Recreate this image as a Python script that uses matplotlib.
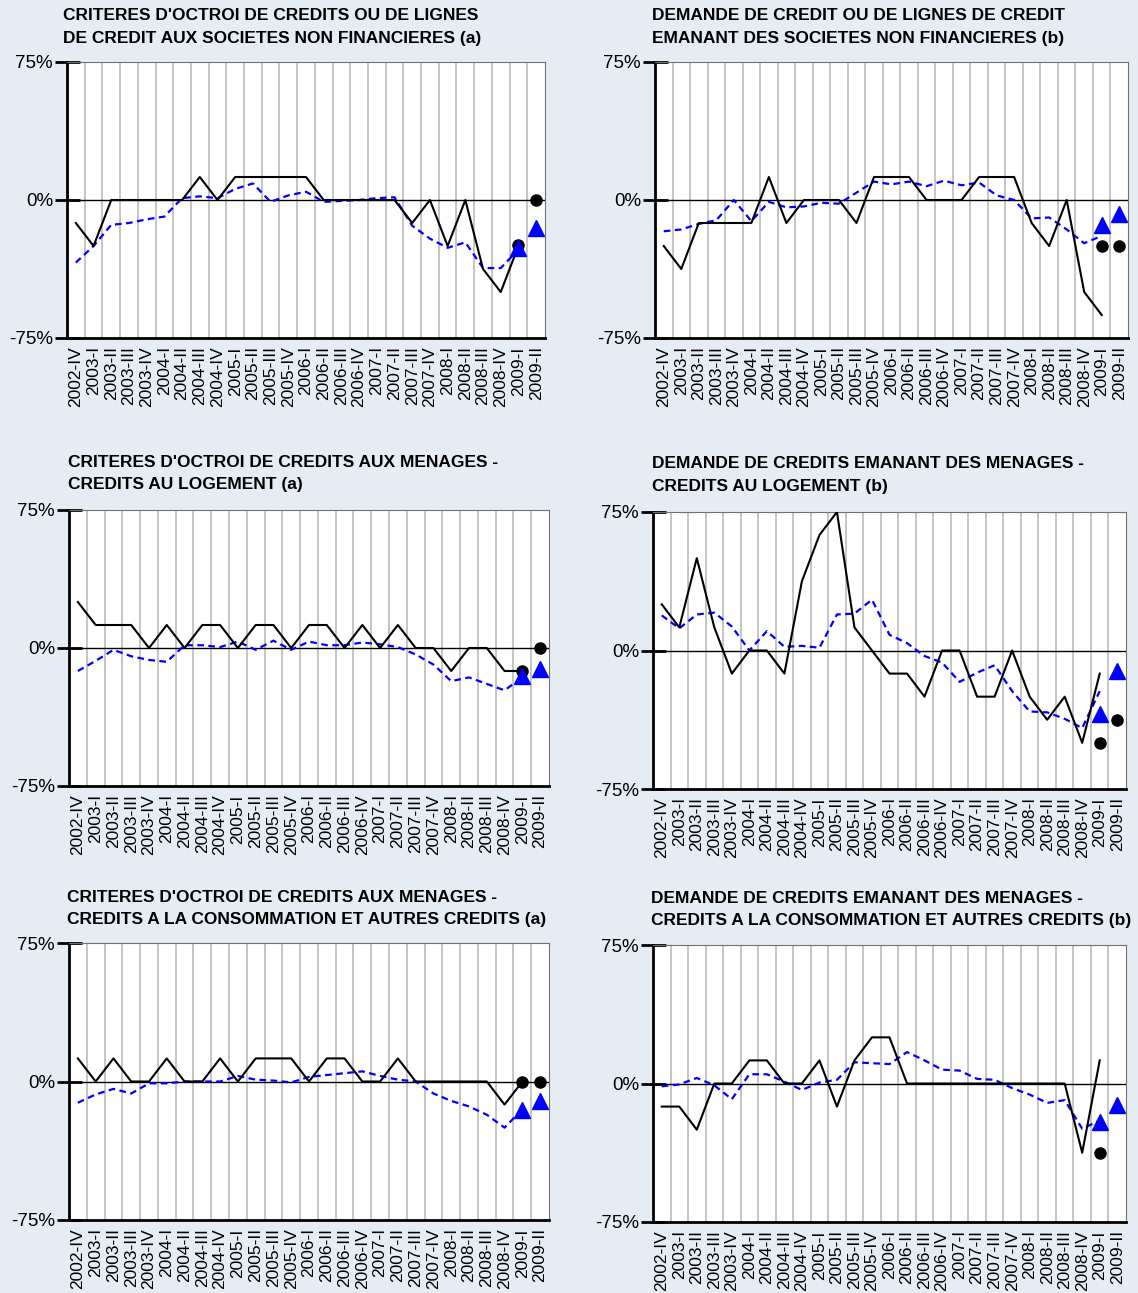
import matplotlib
matplotlib.use('Agg')
import matplotlib.pyplot as plt

plt.rcParams['font.family'] = ['Liberation Sans', 'DejaVu Sans']

# trimestres
quarters = ['2002-IV', '2003-I', '2003-II', '2003-III', '2003-IV', '2004-I', '2004-II',
            '2004-III', '2004-IV', '2005-I', '2005-II', '2005-III', '2005-IV', '2006-I',
            '2006-II', '2006-III', '2006-IV', '2007-I', '2007-II', '2007-III', '2007-IV',
            '2008-I', '2008-II', '2008-III', '2008-IV', '2009-I', '2009-II']

titles = [
    ["CRITERES D'OCTROI DE CREDITS OU DE LIGNES", "DE CREDIT AUX SOCIETES NON FINANCIERES (a)"],
    ["DEMANDE DE CREDIT OU DE LIGNES DE CREDIT", "EMANANT DES SOCIETES NON FINANCIERES (b)"],
    ["CRITERES D'OCTROI DE CREDITS AUX MENAGES -", "CREDITS AU LOGEMENT (a)"],
    ["DEMANDE DE CREDITS EMANANT DES MENAGES -", "CREDITS AU LOGEMENT (b)"],
    ["CRITERES D'OCTROI DE CREDITS AUX MENAGES -", "CREDITS A LA CONSOMMATION ET AUTRES CREDITS (a)"],
    ["DEMANDE DE CREDITS EMANANT DES MENAGES -", "CREDITS A LA CONSOMMATION ET AUTRES CREDITS (b)"],
]

# France (ligne noire), 2002-IV .. 2009-I
france_1 = [-12.5, -25, 0, 0, 0, 0, 0, 12.5, 0, 12.5, 12.5, 12.5, 12.5, 12.5, 0, 0, 0, 0, 0,
            -12.5, 0, -25, 0, -37.5, -50, -25]
france_2 = [-25, -37.5, -12.5, -12.5, -12.5, -12.5, 12.5, -12.5, 0, 0, 0, -12.5, 12.5, 12.5,
            12.5, 0, 0, 0, 12.5, 12.5, 12.5, -12.5, -25, 0, -50, -62.5]
france_3 = [25, 12.5, 12.5, 12.5, 0, 12.5, 0, 12.5, 12.5, 0, 12.5, 12.5, 0, 12.5, 12.5, 0,
            12.5, 0, 12.5, 0, 0, -12.5, 0, 0, -12.5, -12.5]
france_4 = [25, 12.5, 50, 12.5, -12.5, 0, 0, -12.5, 37.5, 62.5, 75, 12.5, 0, -12.5, -12.5,
            -25, 0, 0, -25, -25, 0, -25, -37.5, -25, -50, -12.5]
france_5 = [12.5, 0, 12.5, 0, 0, 12.5, 0, 0, 12.5, 0, 12.5, 12.5, 12.5, 0, 12.5, 12.5, 0, 0,
            12.5, 0, 0, 0, 0, 0, -12.5, 0]
france_6 = [-12.5, -12.5, -25, 0, 0, 12.5, 12.5, 0, 0, 12.5, -12.5, 12.5, 25, 25, 0, 0, 0, 0,
            0, 0, 0, 0, 0, 0, -37.5, 12.5]

# zone euro (pointilles bleus), 2002-IV .. 2009-I
euro_1 = [-34, -25, -13.5, -12.5, -10.5, -9, 1, 2, 1, 6, 9, -1, 2.5, 4.5, -1, -0.5, 0, 1, 1.5,
          -14, -21, -26, -23, -37, -37, -27]
euro_2 = [-17, -16, -13, -11, 0, -11.5, -1, -4, -3.5, -1.5, -2, 4, 10, 8.5, 10, 7.5, 10.5, 8,
          9.5, 2.5, 0, -10, -9.5, -16, -23.5, -19.5]
euro_3 = [-12.5, -7, -1, -4.5, -6.5, -7.5, 1.5, 1.5, 0.5, 3.5, -1, 4, -1, 3.5, 1.5, 1.5, 3,
          2, 0.5, -3.5, -9, -18, -16, -19.5, -23, -16]
euro_4 = [19, 12, 19.5, 20.5, 13, 0, 10.5, 2, 2.5, 1.5, 19.5, 20, 27.5, 8.5, 4, -3, -6.5,
          -17, -12, -8, -22, -33, -33.5, -37, -42, -22]
euro_5 = [-11.5, -7, -4, -6.5, -1, -1, 0, 0, 0, 3, 1, 0.5, -0.5, 2.5, 3.5, 4.5, 5.5, 3, 1, 0,
          -6.5, -10.5, -13.5, -18, -25, -15]
euro_6 = [-1.5, -0.5, 3, -1, -8.5, 5, 5, 1, -3.5, 0.5, 2, 11.5, 11, 10.5, 17, 12.5, 7.5, 7,
          2.5, 2, -2.5, -6, -10.5, -9, -24.5, -20]

# anticipations 2009-I et 2009-II
france_prev = [[-24.5, 0], [-25, -25], [-12.5, 0], [-50, -37.5], [0, 0], [-37.5, None]]
euro_prev = [[-26, -15], [-13.5, -7.5], [-15, -11.5], [-34.5, -11], [-15.5, -10.5], [-21, -11.5]]

france = [france_1, france_2, france_3, france_4, france_5, france_6]
euro = [euro_1, euro_2, euro_3, euro_4, euro_5, euro_6]

W, H = 1138, 1293
# boites des graphiques en pixels: gauche, droite, haut, bas
boxes = [(67, 545, 62, 338), (655, 1128, 62, 338),
         (69, 549, 510, 786), (653, 1126, 512, 789),
         (69, 549, 943, 1220), (653, 1126, 945, 1222)]
# position des titres: x, centre ligne 1, centre ligne 2
title_pos = [(63, 14, 37), (652, 14, 37), (68, 461, 483),
             (652, 462, 485), (67, 896, 918), (651, 897, 919)]

bg = '#E6ECF3'
fig = plt.figure(figsize=(W / 100, H / 100), dpi=100, facecolor=bg)

n = len(quarters)
x = list(range(n))

for k in range(6):
    l, r, t, b = boxes[k]
    ax = fig.add_axes([l / W, 1 - b / H, (r - l) / W, (b - t) / H])
    ax.set_facecolor('white')

    # lignes verticales entre trimestres
    for i in range(n - 1):
        ax.axvline(i + 0.5, color='#C0C0C0', lw=1.3, zorder=1)
    ax.axhline(0, color='black', lw=1, zorder=2)

    ax.plot(x[:len(euro[k])], euro[k], color='blue', lw=1.6, linestyle=(0, (3, 2)), zorder=3)
    ax.plot(x[:len(france[k])], france[k], color='black', lw=1.5, zorder=4)

    fx = [x[25 + j] for j in range(2) if france_prev[k][j] is not None]
    fy = [v for v in france_prev[k] if v is not None]
    ax.plot(fx, fy, 'o', color='black', ms=8, linestyle='None', zorder=5)
    ax.plot(x[25:27], euro_prev[k], '^', color='blue', ms=11, linestyle='None', zorder=6)

    ax.set_xlim(-0.5, n - 0.5)
    ax.set_ylim(-75, 75)
    ax.set_yticks([-75, 0, 75])
    ax.set_yticklabels(['-75%', '0%', '75%'], fontsize=13.5)
    ax.set_xticks(x)
    ax.set_xticklabels(quarters, rotation=90, fontsize=12.5)
    ax.tick_params(axis='x', length=0, pad=6)
    ax.tick_params(axis='y', direction='inout', length=18, width=2, pad=1)

    ax.spines['left'].set_linewidth(2)
    ax.spines['bottom'].set_linewidth(2)
    ax.spines['top'].set_color('#707070')
    ax.spines['right'].set_color('#707070')

    tx, y1, y2 = title_pos[k]
    fig.text(tx / W, 1 - (y1 + 6) / H, titles[k][0], fontsize=12.5, fontweight='bold', va='baseline')
    fig.text(tx / W, 1 - (y2 + 6) / H, titles[k][1], fontsize=12.5, fontweight='bold', va='baseline')

fig.savefig('out.png', dpi=100, facecolor=bg)
